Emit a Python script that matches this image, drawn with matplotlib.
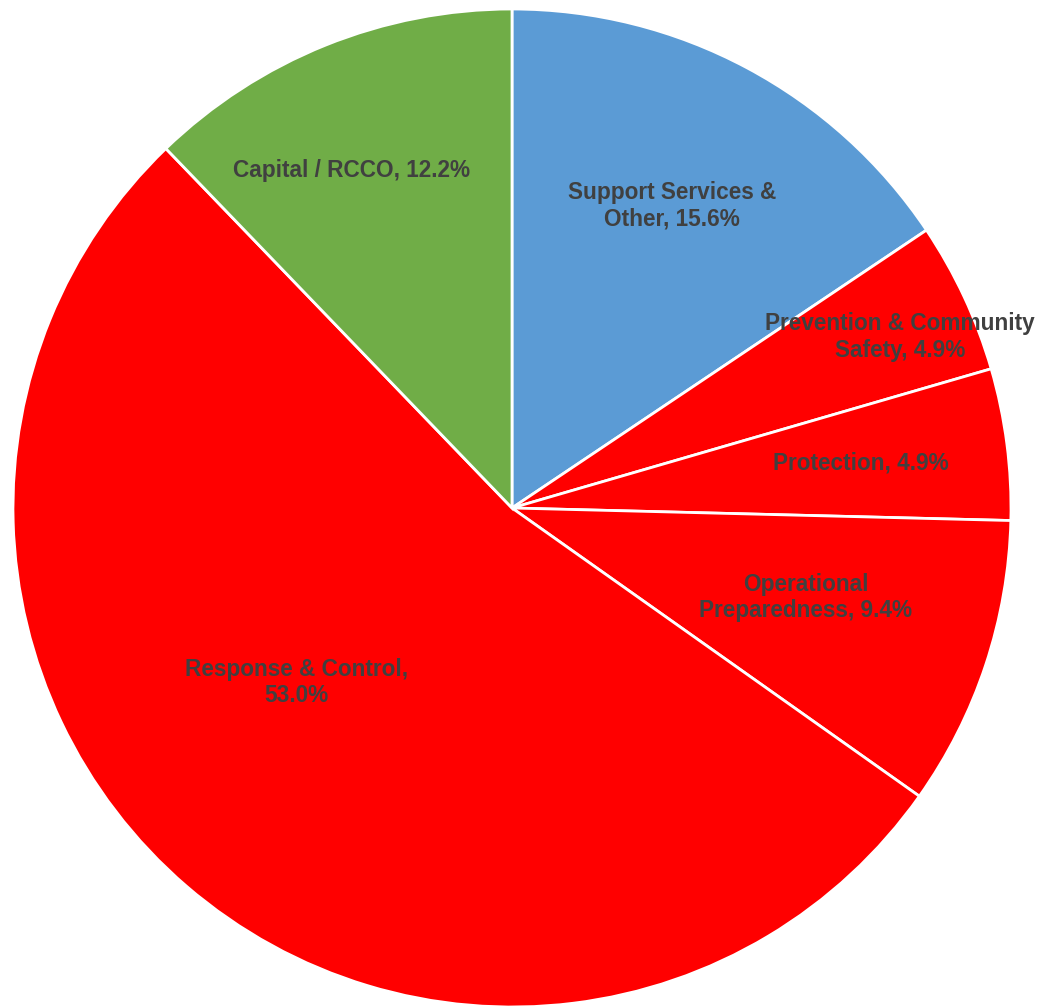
import matplotlib.pyplot as plt
import numpy as np

labels = ["Support Services &\nOther, 15.6%", "Prevention & Community\nSafety, 4.9%",
          "Protection, 4.9%", "Operational\nPreparedness, 9.4%",
          "Response & Control,\n53.0%", "Capital / RCCO, 12.2%"]
values = [15.6, 4.9, 4.9, 9.4, 53.0, 12.2]
colors = ["#5B9BD5", "#FF0000", "#FF0000", "#FF0000", "#FF0000", "#70AD47"]
# label placement (fraction of radius, angle offset in degrees from slice middle)
label_r = [0.685, 0.85, 0.705, 0.615, 0.555, 0.75]
label_da = [0.1, -1.2, -0.1, 1.4, -10.3, 3.5]


def main():
    plt.rcParams['font.family'] = ['Liberation Sans', 'DejaVu Sans']
    fig = plt.figure(figsize=(10.4, 10.07), dpi=100)
    ax = fig.add_axes([13 / 1040, 0, 998 / 1040, 998 / 1007])
    wedges, _ = ax.pie(values, colors=colors, startangle=90, counterclock=False,
                       radius=1, wedgeprops=dict(edgecolor="white", linewidth=2))
    for w, lab, r, da in zip(wedges, labels, label_r, label_da):
        mid = np.deg2rad((w.theta1 + w.theta2) / 2 + da)
        ax.text(r * np.cos(mid), r * np.sin(mid), lab, ha="center", va="center",
                fontsize=16.3, fontweight="bold", color="#404040", linespacing=1.2)
    ax.set_xlim(-1, 1)
    ax.set_ylim(-1, 1)
    ax.set_aspect("equal")
    ax.axis("off")
    fig.savefig("out.png", dpi=100)


if __name__ == "__main__":
    main()
